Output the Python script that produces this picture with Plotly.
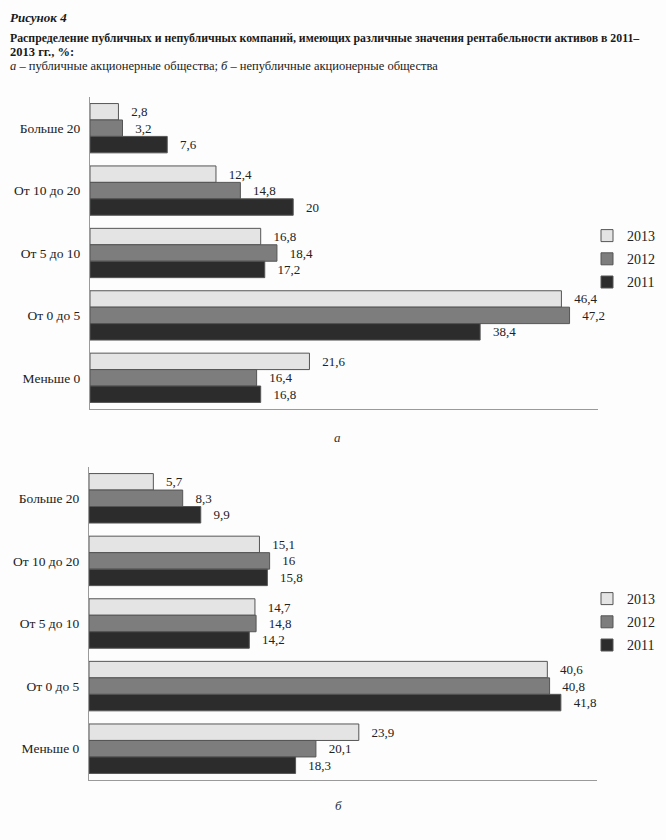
import plotly.graph_objects as go

W, H = 666, 840

categories = ["Больше 20", "От 10 до 20", "От 5 до 10", "От 0 до 5", "Меньше 0"]
years = ["2013", "2012", "2011"]

# a - public joint-stock companies
pub_2013 = [2.8, 12.4, 16.8, 46.4, 21.6]
pub_2012 = [3.2, 14.8, 18.4, 47.2, 16.4]
pub_2011 = [7.6, 20.0, 17.2, 38.4, 16.8]

# б - non-public joint-stock companies
npub_2013 = [5.7, 15.1, 14.7, 40.6, 23.9]
npub_2012 = [8.3, 16.0, 14.8, 40.8, 20.1]
npub_2011 = [9.9, 15.8, 14.2, 41.8, 18.3]

colors = {"2013": "#e4e4e4", "2012": "#7d7d7d", "2011": "#2c2c2c"}
FONT = "Liberation Serif"


def fmt(v):
    s = ("%.1f" % v).rstrip("0").rstrip(".")
    return "   " + s.replace(".", ",")


def px_x(p):
    return p / W


def px_y(p):
    return 1 - p / H


fig = go.Figure()

panels = [
    ("x", "y", "legend", "a", [pub_2013, pub_2012, pub_2011]),
    ("x2", "y2", "legend2", "b", [npub_2013, npub_2012, npub_2011]),
]
for xa, ya, lg, tag, series in panels:
    for yr, vals in zip(years, series):
        fig.add_trace(go.Bar(
            y=categories, x=vals, orientation="h", name=yr,
            xaxis=xa, yaxis=ya, legend=lg, legendgroup=tag + yr,
            marker=dict(color=colors[yr], line=dict(color="#555555", width=1)),
            text=[fmt(v) for v in vals], textposition="outside",
            textfont=dict(family=FONT, size=13, color="#222222"),
            cliponaxis=False, hoverinfo="skip",
        ))

axis_common = dict(showgrid=False, zeroline=False, showticklabels=False, automargin=False,
                   showline=True, linecolor="#9a9a9a", linewidth=1, ticks="")
yaxis_common = dict(showgrid=False, zeroline=False, showline=True, linecolor="#9a9a9a",
                    linewidth=1, ticks="", autorange="reversed", type="category",
                    automargin=False,
                    tickfont=dict(family=FONT, size=13.5, color="#222222"),
                    categoryorder="array", categoryarray=categories, ticklabelstandoff=6)

legend_common = dict(xanchor="right", yanchor="top", bgcolor="rgba(0,0,0,0)",
                     font=dict(family=FONT, size=14, color="#222222"),
                     itemwidth=30, tracegroupgap=2, traceorder="grouped")

fig.update_layout(
    width=W, height=H, autosize=False,
    margin=dict(l=0, r=0, t=0, b=0, autoexpand=False),
    paper_bgcolor="#fdfdfd", plot_bgcolor="rgba(0,0,0,0)",
    barmode="group", bargap=0.21, bargroupgap=0.0,
    font=dict(family=FONT, size=13, color="#222222"),
    xaxis=dict(axis_common, domain=[px_x(90), px_x(598)], range=[0, 50], anchor="y"),
    yaxis=dict(yaxis_common, domain=[px_y(409), px_y(97)], anchor="x"),
    xaxis2=dict(axis_common, domain=[px_x(89), px_x(597)], range=[0, 45], anchor="y2"),
    yaxis2=dict(yaxis_common, domain=[px_y(780), px_y(467)], anchor="x2"),
    legend=dict(legend_common, x=px_x(660), y=px_y(220)),
    legend2=dict(legend_common, x=px_x(660), y=px_y(583)),
    showlegend=True,
)

annotations = [
    dict(text="<b><i>Рисунок 4</i></b>", x=px_x(8), y=px_y(8), size=13),
    dict(text="<b>Распределение публичных и непубличных компаний, имеющих различные значения рентабельности активов в 2011–</b>",
         x=px_x(8), y=px_y(29), size=11.8),
    dict(text="<b>2013 гг., %:</b>", x=px_x(8), y=px_y(43), size=12.5),
    dict(text="<i>а</i> – публичные акционерные общества; <i>б</i> – непубличные акционерные общества",
         x=px_x(8), y=px_y(57), size=12.5),
]
for a in annotations:
    fig.add_annotation(text=a["text"], x=a["x"], y=a["y"], xref="paper", yref="paper",
                       xanchor="left", yanchor="top", showarrow=False,
                       font=dict(family=FONT, size=a["size"], color="#1a1a1a"))

fig.add_annotation(text="<i>а</i>", x=px_x(337), y=px_y(437), xref="paper", yref="paper",
                   showarrow=False, font=dict(family=FONT, size=13, color="#333333"))
fig.add_annotation(text="<i>б</i>", x=px_x(338), y=px_y(815), xref="paper", yref="paper",
                   showarrow=False, font=dict(family=FONT, size=13, color="#333333"))

fig.write_html("out.html")
